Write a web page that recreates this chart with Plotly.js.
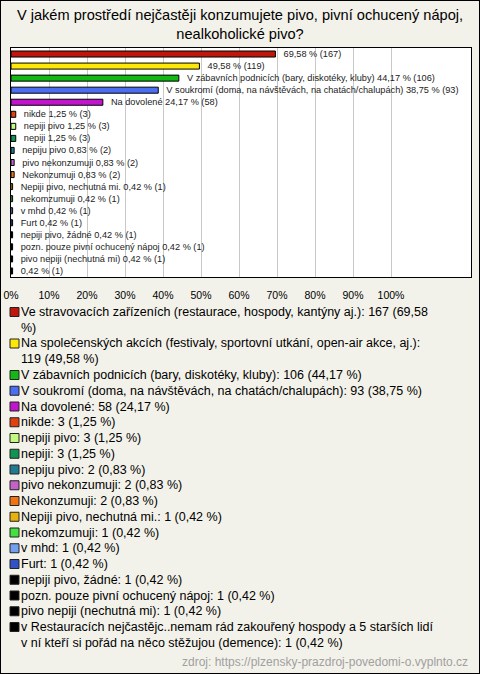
<!DOCTYPE html>
<html><head><meta charset="utf-8">
<script src="https://cdn.plot.ly/plotly-3.0.1.min.js"></script>
<style>html,body{margin:0;padding:0;background:#fff}#chart{width:478px;height:672px;border:1px solid #000;}</style>
</head><body><div id="chart"></div>
<script>
const names = [
  'Ve stravovacích zařízeních (restaurace, hospody, kantýny aj.)',
  'Na společenských akcích (festivaly, sportovní utkání, open-air akce, aj.)',
  'V zábavních podnicích (bary, diskotéky, kluby)',
  'V soukromí (doma, na návštěvách, na chatách/chalupách)',
  'Na dovolené',
  'nikde',
  'nepiji pivo',
  'nepiji',
  'nepiju pivo',
  'pivo nekonzumuji',
  'Nekonzumuji',
  'Nepiji pivo, nechutná mi.',
  'nekomzumuji',
  'v mhd',
  'Furt',
  'nepiji pivo, žádné',
  'pozn. pouze pivní ochucený nápoj',
  'pivo nepiji (nechutná mi)',
  'v Restauracích nejčastějc..nemam rád zakouřený hospody a 5 starších lidí v ní kteří si pořád na něco stěžujou (demence)'
];
const counts = [167, 119, 106, 93, 58, 3, 3, 3, 2, 2, 2, 1, 1, 1, 1, 1, 1, 1, 1];
const pcts = [69.58, 49.58, 44.17, 38.75, 24.17, 1.25, 1.25, 1.25, 0.83, 0.83, 0.83, 0.42, 0.42, 0.42, 0.42, 0.42, 0.42, 0.42, 0.42];
const showNameOnBar = [false, false, true, true, true, true, true, true, true, true, true, true, true, true, true, true, true, true, false];
const colors = ['#c0170c', '#fde80a', '#14b814', '#4a6ff0', '#c214cc', '#e0420e', '#c4fa82', '#119452', '#1f7a92', '#c462c8', '#f07412', '#e8b20e', '#44e040', '#72a0ee', '#3052c4', '#000000', '#000000', '#000000', '#000000'];
const tickVals = [0, 10, 20, 30, 40, 50, 60, 70, 80, 90, 100];
const tickText = ['0%', '10%', '20%', '30%', '40%', '50%', '60%', '70%', '80%', '90%', '100%'];
const titleText = 'V jakém prostředí nejčastěji konzumujete pivo, pivní ochucený nápoj,<br>nealkoholické pivo?';
const sourceText = 'zdroj: https://plzensky-prazdroj-povedomi-o.vyplnto.cz';

const FONT = '"Liberation Sans", Arial, sans-serif';
const W = 478, H = 672;
const M = {l: 10, r: 8, t: 47, b: 396};
const PW = W - M.l - M.r, PH = H - M.t - M.b;
const px2x = px => (px - M.l) / PW;
const py2y = py => (H - M.b - py) / PH;
const fmt = v => v.toFixed(2).replace('.', ',');

const traces = names.map((n, i) => ({
  type: 'bar', orientation: 'h',
  x: [pcts[i]], y: [n],
  width: 0.5,
  marker: {color: colors[i], line: {color: '#000', width: 1}},
  text: ['\u00a0\u00a0' + (showNameOnBar[i] ? n + ' ' : '') + fmt(pcts[i]) + ' % (' + counts[i] + ')'],
  textposition: 'outside', constraintext: 'none', cliponaxis: false,
  textfont: {family: FONT, size: 9.2, color: '#222'},
  showlegend: false, hoverinfo: 'skip'
}));

// legend built from the same arrays
const LFS = 12.5;
const ctx = document.createElement('canvas').getContext('2d');
ctx.font = LFS + 'px "Liberation Sans"';
const refStr = names[3] + ': ' + counts[3] + ' (' + fmt(pcts[3]) + ' %)';
const scale = ctx.measureText(refStr).width / 426;
const maxW = 444 * scale;
function wrap(s) {
  const words = s.split(' ');
  const lines = []; let cur = '';
  for (const w of words) {
    const t = cur ? cur + ' ' + w : w;
    if (cur && ctx.measureText(t).width > maxW) { lines.push(cur); cur = w; }
    else cur = t;
  }
  if (cur) lines.push(cur);
  return lines;
}
const shapes = [], annotations = [];
const startY = 311, lh = 15.75;
let k = 0;
names.forEach((n, i) => {
  const lines = wrap(n + ': ' + counts[i] + ' (' + fmt(pcts[i]) + ' %)');
  const cy = startY + k * lh;
  shapes.push({type: 'rect', xref: 'paper', yref: 'paper',
    x0: px2x(9), x1: px2x(18), y0: py2y(cy + 4.5), y1: py2y(cy - 4.5),
    fillcolor: colors[i], line: {color: '#222', width: 1}});
  annotations.push({xref: 'paper', yref: 'paper', x: px2x(18), xanchor: 'left',
    y: py2y(cy + (lines.length - 1) * lh / 2), yanchor: 'middle', align: 'left',
    text: lines.join('<br>'), showarrow: false, font: {family: FONT, size: LFS, color: '#000'}});
  k += lines.length;
});
annotations.push({xref: 'paper', yref: 'paper', x: px2x(469), xanchor: 'right',
  y: py2y(661), yanchor: 'middle', text: sourceText, showarrow: false,
  font: {family: FONT, size: 12, color: '#a0a0a0'}});

const layout = {
  width: W, height: H, margin: M,
  paper_bgcolor: '#f3f2ea', plot_bgcolor: '#ffffff',
  font: {family: FONT, color: '#000'},
  title: {text: titleText, x: 0.5, xref: 'container', xanchor: 'center',
    y: 1 - 19 / H, yref: 'container', yanchor: 'top', font: {family: FONT, size: 14.6, color: '#000'}},
  barmode: 'overlay', showlegend: false,
  xaxis: {range: [0, 121.05], tickvals: tickVals, ticktext: tickText, showgrid: true,
    gridcolor: '#c8c8c8', gridwidth: 1, zeroline: false, showline: true, linecolor: '#000',
    linewidth: 1, mirror: true, ticks: '', ticklabelstandoff: 8,
    tickfont: {family: FONT, size: 10.5, color: '#000'}, fixedrange: true},
  yaxis: {type: 'category', autorange: 'reversed', showticklabels: false, showgrid: false,
    zeroline: false, showline: true, linecolor: '#000', linewidth: 1, mirror: true, ticks: '', fixedrange: true},
  shapes: shapes, annotations: annotations
};
Plotly.newPlot('chart', traces, layout, {displayModeBar: false, staticPlot: true});
</script></body></html>
